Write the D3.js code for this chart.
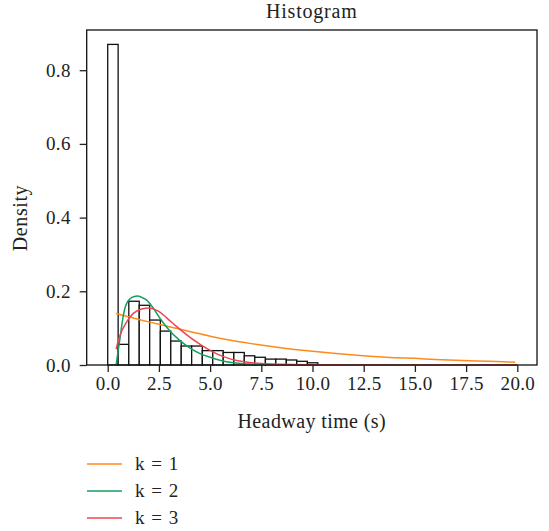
<!DOCTYPE html>
<html><head><meta charset="utf-8">
<script src="https://cdn.jsdelivr.net/npm/d3@7"></script>
<style>
html,body{margin:0;padding:0;background:#fff;}
svg{display:block;font-family:"Liberation Serif","DejaVu Serif",serif;}
</style></head>
<body><svg id="c" width="549" height="531"></svg>
<script>
// ---- data ----
const binEdges = [0, 0.51, 1.03, 1.54, 2.05, 2.57, 3.08, 3.59, 4.1, 4.62, 5.13, 5.64, 6.16, 6.67, 7.18, 7.7, 8.21, 8.72, 9.23, 9.75, 10.26];
const binDensity = [0.870, 0.056, 0.173, 0.162, 0.122, 0.092, 0.065, 0.0515, 0.0515, 0.039, 0.039, 0.034, 0.034, 0.025, 0.021, 0.016, 0.016, 0.0136, 0.010, 0.006];

const k1X = [0.41, 1, 2, 3, 4, 5, 6, 7, 8, 9, 10, 11, 12, 13, 14, 15, 16, 17, 18, 19, 19.9];
const k1Y = [0.140, 0.131, 0.117, 0.104, 0.091, 0.078, 0.067, 0.058, 0.050, 0.043, 0.037, 0.032, 0.027, 0.023, 0.020, 0.018, 0.015, 0.013, 0.011, 0.0093, 0.0078];

const k2X = [0.41, 0.5, 0.6, 0.72, 0.84, 0.96, 1.09, 1.3, 1.45, 1.65, 1.9, 2.23, 2.55, 3.04, 3.53, 4.02, 4.51, 5.0, 5.48, 6.13, 6.95, 8.0, 10, 12, 20];
const k2Y = [0, 0.035, 0.072, 0.12, 0.154, 0.171, 0.180, 0.186, 0.187, 0.184, 0.176, 0.154, 0.127, 0.092, 0.066, 0.046, 0.031, 0.021, 0.013, 0.006, 0.0025, 0.0008, 0.0001, 0, 0];

const k3X = [0.41, 0.6, 0.93, 1.25, 1.66, 2.0, 2.47, 2.88, 3.37, 3.86, 4.35, 4.83, 5.3, 5.8, 6.3, 6.9, 7.5, 8.5, 10, 12, 20];
const k3Y = [0.043, 0.080, 0.117, 0.140, 0.152, 0.155, 0.146, 0.128, 0.104, 0.082, 0.062, 0.045, 0.031, 0.020, 0.012, 0.007, 0.004, 0.002, 0.0008, 0.0002, 0];

const xTicks = [0, 2.5, 5, 7.5, 10, 12.5, 15, 17.5, 20];
const yTicks = [0, 0.2, 0.4, 0.6, 0.8];
const seriesNames = ["k = 1", "k = 2", "k = 3"];
const seriesColors = ["#ff8a1c", "#12a05e", "#ee4452"];

// ---- layout ----
const svg = d3.select("#c");
const box = {left: 86.7, top: 30, right: 537, bottom: 365};
const x = d3.scaleLinear().domain([0, 20]).range([107.7, 517.3]);
const y = d3.scaleLinear().domain([0, 0.8]).range([365, 70.2]);

// bars
const bins = binDensity.map((d, i) => ({x0: binEdges[i], x1: binEdges[i + 1], v: d}));
svg.append("g").selectAll("rect").data(bins).join("rect")
  .attr("x", d => x(d.x0)).attr("width", d => x(d.x1) - x(d.x0))
  .attr("y", d => y(d.v)).attr("height", d => y(0) - y(d.v))
  .attr("fill", "#fff").attr("stroke", "#111").attr("stroke-width", 1.3);

// curves
const line = d3.line().x(d => x(d[0])).y(d => y(d[1])).curve(d3.curveMonotoneX);
const series = [d3.zip(k1X, k1Y), d3.zip(k2X, k2Y), d3.zip(k3X, k3Y)];
series.forEach((s, i) => {
  svg.append("path").attr("d", line(s)).attr("fill", "none")
    .attr("stroke", seriesColors[i]).attr("stroke-width", 1.5);
});

// box
svg.append("rect").attr("x", box.left).attr("y", box.top)
  .attr("width", box.right - box.left).attr("height", box.bottom - box.top)
  .attr("fill", "none").attr("stroke", "#111").attr("stroke-width", 1.3);

// axes
const xAxis = d3.axisBottom(x).tickValues(xTicks).tickFormat(d3.format(".1f")).tickSize(7).tickPadding(5);
const gx = svg.append("g").attr("transform", `translate(0,${box.bottom})`).call(xAxis);
gx.select(".domain").remove();
const yAxis = d3.axisLeft(y).tickValues(yTicks).tickFormat(d3.format(".1f")).tickSize(7).tickPadding(9);
const gy = svg.append("g").attr("transform", `translate(${box.left},0)`).call(yAxis);
gy.select(".domain").remove();
[gx, gy].forEach(g => {
  g.selectAll("line").attr("stroke", "#222").attr("stroke-width", 1.3);
  g.selectAll("text").attr("font-family", "Liberation Serif, serif").attr("font-size", 19)
    .attr("letter-spacing", 0.3).attr("fill", "#222");
});

// titles
svg.append("text").attr("x", 311.8).attr("y", 18).attr("text-anchor", "middle")
  .attr("font-size", 20).attr("letter-spacing", 0.8).attr("fill", "#222").text("Histogram");
svg.append("text").attr("x", 311.8).attr("y", 428).attr("text-anchor", "middle")
  .attr("font-size", 20).attr("letter-spacing", 0.4).attr("fill", "#222").text("Headway time (s)");
svg.append("text").attr("transform", "translate(27,218) rotate(-90)").attr("text-anchor", "middle")
  .attr("font-size", 20).attr("letter-spacing", 0.6).attr("fill", "#222").text("Density");

// legend
const legY = [464, 491, 518];
seriesNames.forEach((n, i) => {
  svg.append("line").attr("x1", 87).attr("x2", 122).attr("y1", legY[i]).attr("y2", legY[i])
    .attr("stroke", seriesColors[i]).attr("stroke-width", 1.5);
  svg.append("text").attr("x", 135).attr("y", legY[i] + 6).attr("font-size", 19)
    .attr("letter-spacing", 1).attr("fill", "#222").text(n);
});
</script></body></html>
